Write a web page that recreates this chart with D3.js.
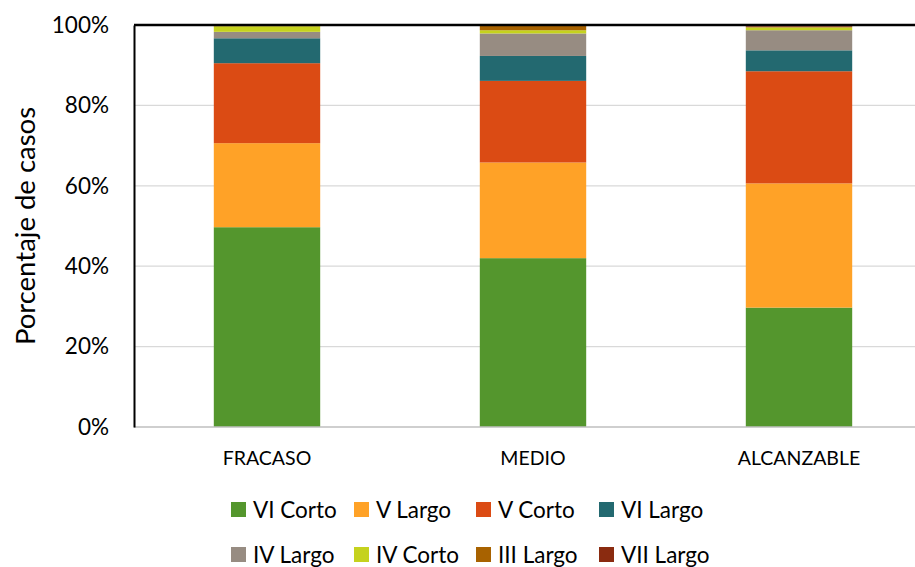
<!DOCTYPE html>
<html><head><meta charset="utf-8">
<script src="https://cdn.jsdelivr.net/npm/d3@7"></script>
<style>body{margin:0;background:#fff;}svg{display:block;font-family:Lato,"Open Sans",sans-serif;}</style>
</head><body><svg id="c" width="915" height="567"></svg>
<script>
const categories = ["FRACASO", "MEDIO", "ALCANZABLE"];
const seriesNames = ["VI Corto", "V Largo", "V Corto", "VI Largo", "IV Largo", "IV Corto", "III Largo", "VII Largo"];
const viCorto  = [49.7, 42.0, 29.7];
const vLargo   = [20.9, 23.8, 30.9];
const vCorto   = [19.9, 20.3, 27.9];
const viLargo  = [6.2, 6.2, 5.2];
const ivLargo  = [1.6, 5.6, 5.0];
const ivCorto  = [1.4, 0.8, 0.7];
const iiiLargo = [0.3, 1.3, 0.2];
const viiLargo = [0.0, 0.0, 0.4];
const yTicks = [0, 20, 40, 60, 80, 100];
const colors = ["#54962d", "#ffa227", "#db4b14", "#236970", "#978c82", "#c5d21e", "#a86200", "#8a2b10"];

const seriesValues = [viCorto, vLargo, vCorto, viLargo, ivLargo, ivCorto, iiiLargo, viiLargo];
const rows = categories.map((c, i) => {
  const r = {cat: c};
  seriesNames.forEach((s, j) => r[s] = seriesValues[j][i]);
  return r;
});
const stacked = d3.stack().keys(seriesNames)(rows);

const svg = d3.select("#c");
const pL = 134, pT = 25, pB = 427, pR = 932;
const x = d3.scaleBand().domain(categories).range([pL, pR]).paddingInner(0.6).paddingOuter(0.3);
const y = d3.scaleLinear().domain([0, 100]).range([pB, pT]);

// gridlines
svg.append("g").selectAll("line").data(yTicks.filter(t => t > 0 && t < 100)).join("line")
  .attr("x1", pL).attr("x2", 915).attr("y1", d => y(d)).attr("y2", d => y(d))
  .attr("stroke", "#d9d9d9").attr("stroke-width", 1.3);

// bars
svg.append("g").selectAll("g").data(stacked).join("g")
  .attr("fill", (d, i) => colors[i])
  .selectAll("rect").data(d => d).join("rect")
  .attr("x", d => x(d.data.cat)).attr("width", x.bandwidth())
  .attr("y", d => y(d[1])).attr("height", d => Math.max(0, y(d[0]) - y(d[1])));

// bottom axis line
svg.append("line").attr("x1", pL).attr("x2", 915).attr("y1", pB).attr("y2", pB)
  .attr("stroke", "#bfbfbf").attr("stroke-width", 1.3);
// top border
svg.append("line").attr("x1", pL).attr("x2", 915).attr("y1", pT).attr("y2", pT)
  .attr("stroke", "#000").attr("stroke-width", 2.5);
// left axis
const yAxis = d3.axisLeft(y).tickValues(yTicks).tickFormat(d => d + "%").tickSize(0).tickPadding(25);
const ga = svg.append("g").attr("transform", `translate(${pL},0)`).call(yAxis);
ga.select(".domain").attr("stroke", "#000").attr("stroke-width", 2);
ga.selectAll("text").attr("font-size", 22.5).attr("fill", "#000").attr("font-family", "Lato,'Open Sans',sans-serif");

// x axis labels
const xAxis = d3.axisBottom(x).tickSize(0).tickPadding(24);
const gx = svg.append("g").attr("transform", `translate(0,${pB})`).call(xAxis);
gx.select(".domain").remove();
gx.selectAll("text").attr("font-size", 19.5).attr("fill", "#000").attr("font-family", "Lato,'Open Sans',sans-serif");

// y title
svg.append("text").attr("transform", "translate(35,226) rotate(-90)")
  .attr("text-anchor", "middle").attr("font-size", 27.5).attr("fill", "#000")
  .text("Porcentaje de casos");

// legend
const legX = [231, 354, 476, 599];
const legY = [502, 547];
const leg = svg.append("g").selectAll("g").data(seriesNames).join("g")
  .attr("transform", (d, i) => `translate(${legX[i % 4]},${legY[Math.floor(i / 4)]})`);
leg.append("rect").attr("width", 15).attr("height", 15).attr("fill", (d, i) => colors[i]);
leg.append("text").attr("x", 22).attr("y", 15.5).attr("font-size", 22.5).attr("fill", "#000").text(d => d);
</script></body></html>
